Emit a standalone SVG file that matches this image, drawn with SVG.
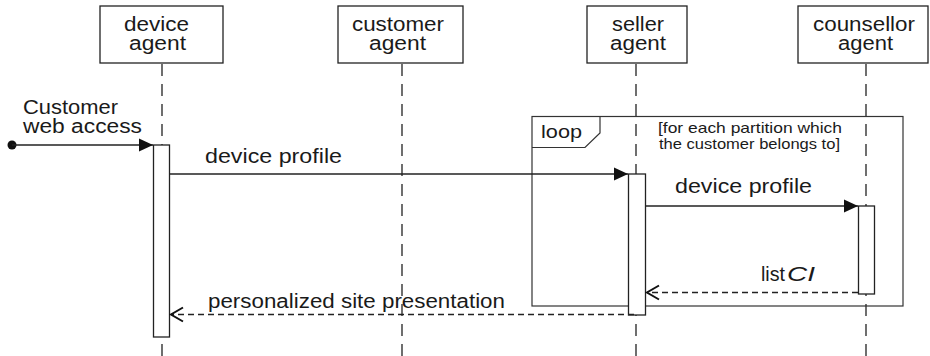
<svg xmlns="http://www.w3.org/2000/svg" width="930" height="356" viewBox="0 0 930 356">
  <style>
    text { font-family: "Liberation Sans", Arial, sans-serif; fill: #1a1a1a; }
    .head { font-size: 19.5px; }
    .msg { font-size: 20px; }
    .guard { font-size: 15px; }
    .box { fill: #fff; stroke: #222; stroke-width: 1.3; }
    .life { stroke: #222; stroke-width: 1.3; stroke-dasharray: 12 8; fill: none; }
    .act { fill: #fff; stroke: #222; stroke-width: 1.3; }
    .call { stroke: #222; stroke-width: 1.5; fill: none; }
    .reply { stroke: #222; stroke-width: 1.3; stroke-dasharray: 6 4; fill: none; }
    .frame { fill: none; stroke: #333; stroke-width: 1.2; }
  </style>
  <defs>
    <marker id="filled" markerWidth="14" markerHeight="14" refX="14" refY="7" orient="auto" markerUnits="userSpaceOnUse">
      <path d="M0,0.5 L14,7 L0,13.5 Z" fill="#111"/>
    </marker>
    <marker id="open" markerWidth="16" markerHeight="18" refX="13" refY="8" orient="auto" markerUnits="userSpaceOnUse">
      <path d="M1,1 L13,8 L1,15" fill="none" stroke="#111" stroke-width="2"/>
    </marker>
  </defs>
  <rect width="930" height="356" fill="#fff"/>

  <!-- lifelines -->
  <g id="lifelines">
    <line class="life" x1="162" y1="64" x2="162" y2="356"/>
    <line class="life" x1="402" y1="64" x2="402" y2="356"/>
    <line class="life" x1="636" y1="64" x2="636" y2="356"/>
    <line class="life" x1="866" y1="64" x2="866" y2="356"/>
  </g>

  <!-- loop combined fragment -->
  <g id="loop">
    <rect class="frame" x="532" y="116.5" width="371" height="189.5"/>
    <path class="frame" d="M532,147.5 L585,147.5 L600,133 L600,116.5"/>
    <text class="msg" x="541" y="138" textLength="41" lengthAdjust="spacingAndGlyphs" style="font-size:19px">loop</text>
    <text class="guard" x="658" y="133" textLength="184" lengthAdjust="spacingAndGlyphs">[for each  partition which</text>
    <text class="guard" x="659" y="149" textLength="181" lengthAdjust="spacingAndGlyphs">the customer belongs to]</text>
  </g>

  <!-- participants -->
  <g id="device-agent">
    <rect class="box" x="100" y="6" width="123" height="57"/>
    <text class="head" x="124" y="31" textLength="65" lengthAdjust="spacingAndGlyphs">device</text>
    <text class="head" x="129" y="50" textLength="57" lengthAdjust="spacingAndGlyphs">agent</text>
  </g>
  <g id="customer-agent">
    <rect class="box" x="338" y="6" width="125" height="57"/>
    <text class="head" x="352" y="31" textLength="92" lengthAdjust="spacingAndGlyphs">customer</text>
    <text class="head" x="369" y="50" textLength="57" lengthAdjust="spacingAndGlyphs">agent</text>
  </g>
  <g id="seller-agent">
    <rect class="box" x="587" y="6" width="100" height="57"/>
    <text class="head" x="612" y="31" textLength="52" lengthAdjust="spacingAndGlyphs">seller</text>
    <text class="head" x="610" y="50" textLength="56" lengthAdjust="spacingAndGlyphs">agent</text>
  </g>
  <g id="counsellor-agent">
    <rect class="box" x="798" y="6" width="130" height="57"/>
    <text class="head" x="813" y="31" textLength="102" lengthAdjust="spacingAndGlyphs">counsellor</text>
    <text class="head" x="838" y="50" textLength="55" lengthAdjust="spacingAndGlyphs">agent</text>
  </g>

  <!-- activation bars -->
  <g id="activations">
    <rect class="act" x="153.5" y="145" width="16" height="192"/>
    <rect class="act" x="628.5" y="174" width="17" height="141"/>
    <rect class="act" x="858.5" y="206" width="16" height="88"/>
  </g>

  <!-- messages -->
  <g id="connectors">
    <circle cx="12" cy="145" r="4.5" fill="#111"/>
    <line class="call" x1="12" y1="145" x2="153" y2="145" marker-end="url(#filled)"/>
    <line class="call" x1="169.5" y1="174" x2="628" y2="174" marker-end="url(#filled)"/>
    <line class="call" x1="645.5" y1="206" x2="858" y2="206" marker-end="url(#filled)"/>
    <line class="reply" x1="858" y1="292.5" x2="647" y2="292.5" marker-end="url(#open)"/>
    <line class="reply" x1="634" y1="314.5" x2="171" y2="314.5" marker-end="url(#open)"/>
  </g>

  <!-- message labels -->
  <g id="labels">
    <text class="msg" x="23" y="114" textLength="95" lengthAdjust="spacingAndGlyphs">Customer</text>
    <text class="msg" x="23" y="133" textLength="119" lengthAdjust="spacingAndGlyphs">web  access</text>
    <text class="msg" x="205" y="163" textLength="137" lengthAdjust="spacingAndGlyphs">device  profile</text>
    <text class="msg" x="675" y="193" textLength="137" lengthAdjust="spacingAndGlyphs">device  profile</text>
    <text class="msg" x="761" y="281" textLength="24" lengthAdjust="spacingAndGlyphs">list</text>
    <text class="msg" x="787" y="281" textLength="28" lengthAdjust="spacingAndGlyphs" font-style="italic">CI</text>
    <text class="msg" x="208" y="308" textLength="297" lengthAdjust="spacingAndGlyphs">personalized site presentation</text>
  </g>
</svg>
